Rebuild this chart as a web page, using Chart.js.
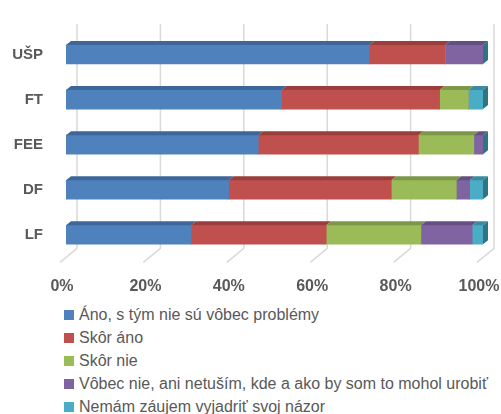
<!DOCTYPE html>
<html><head><meta charset="utf-8">
<script src="https://cdn.jsdelivr.net/npm/chart.js@4"></script>
<style>
html,body{margin:0;padding:0;background:#fff;}
#wrap{position:relative;width:501px;height:414px;overflow:hidden;background:#fff;}
#c{position:absolute;left:0;top:0;}
#legend{position:absolute;left:64px;top:303.5px;font-family:"Liberation Sans",Arial,sans-serif;font-size:16px;color:#595959;}
.item{height:23px;display:flex;align-items:center;white-space:nowrap;}
.box{width:10px;height:10px;margin-right:5px;flex:none;}
</style></head><body>
<div id="wrap"><canvas id="c" width="501" height="300"></canvas><div id="legend"></div></div>
<script>
const categories = ['UŠP', 'FT', 'FEE', 'DF', 'LF'];
const seriesNames = [
  'Áno, s tým nie sú vôbec problémy',
  'Skôr áno',
  'Skôr nie',
  'Vôbec nie, ani netuším, kde a ako by som to mohol urobiť',
  'Nemám záujem vyjadriť svoj názor'
];
const anoValues      = [72.7, 51.7, 46.1, 39.0, 30.0];
const skorAnoValues  = [18.2, 37.9, 38.4, 39.0, 32.4];
const skorNieValues  = [0.0, 6.9, 13.3, 15.6, 22.7];
const vobecNieValues = [9.1, 0.0, 2.2, 3.2, 12.3];
const nemamValues    = [0.0, 3.5, 0.0, 3.2, 2.6];
const xTickValues = [0, 20, 40, 60, 80, 100];
const xTickLabels = ['0%', '20%', '40%', '60%', '80%', '100%'];

const frontColors = ['#4f81bd', '#c0504d', '#9bbb59', '#8064a2', '#4bacc6'];
const topColors   = ['#3d6699', '#9a3e3b', '#7d9748', '#654f82', '#3a8ba1'];
const sideColor = '#2e7486';
const D = {dx: 5, dy: 4};

const fake3d = {
  id: 'fake3d',
  beforeDatasetsDraw(chart) {
    const {ctx, chartArea: a, scales: {x}} = chart;
    ctx.save();
    ctx.strokeStyle = '#d9d9d9';
    ctx.lineWidth = 1.5;
    xTickValues.forEach(v => {
      const px = x.getPixelForValue(v);
      ctx.beginPath();
      ctx.moveTo(px + 11, a.top - 8);
      ctx.lineTo(px + 11, a.bottom - 9);
      ctx.lineTo(px - 6, a.bottom + 5);
      ctx.stroke();
    });
    ctx.restore();
  },
  afterDatasetsDraw(chart) {
    const ctx = chart.ctx;
    ctx.save();
    const n = chart.data.labels.length;
    for (let i = 0; i < n; i++) {
      let end = null, t = 0, b = 0;
      chart.data.datasets.forEach((ds, di) => {
        const el = chart.getDatasetMeta(di).data[i];
        const top = el.y - el.height / 2;
        const x0 = Math.min(el.base, el.x), x1 = Math.max(el.base, el.x);
        if (x1 - x0 > 0.01) {
          ctx.fillStyle = topColors[di];
          ctx.beginPath();
          ctx.moveTo(x0, top);
          ctx.lineTo(x1, top);
          ctx.lineTo(x1 + D.dx, top - D.dy);
          ctx.lineTo(x0 + D.dx, top - D.dy);
          ctx.closePath();
          ctx.fill();
        }
        if (end === null || x1 > end) { end = x1; t = top; b = el.y + el.height / 2; }
      });
      ctx.fillStyle = sideColor;
      ctx.beginPath();
      ctx.moveTo(end, t);
      ctx.lineTo(end + D.dx, t - D.dy);
      ctx.lineTo(end + D.dx, b - D.dy);
      ctx.lineTo(end, b);
      ctx.closePath();
      ctx.fill();
    }
    ctx.restore();
  }
};

const seriesValues = [anoValues, skorAnoValues, skorNieValues, vobecNieValues, nemamValues];
const datasets = seriesNames.map((name, i) => ({
  label: name,
  data: seriesValues[i],
  backgroundColor: frontColors[i],
  borderWidth: 0,
  barThickness: 19
}));

const chart = new Chart(document.getElementById('c'), {
  type: 'bar',
  data: {labels: categories, datasets},
  plugins: [fake3d],
  options: {
    indexAxis: 'y',
    responsive: false,
    animation: false,
    devicePixelRatio: 1,
    layout: {padding: {top: 21, right: 18, left: 0, bottom: 0}},
    plugins: {legend: {display: false}, tooltip: {enabled: false}},
    scales: {
      x: {
        stacked: true, min: 0, max: 100,
        grid: {display: false, drawTicks: false},
        border: {display: false},
        afterBuildTicks(s) { s.ticks = xTickValues.map(v => ({value: v})); },
        afterFit(s) { s.height = 42.7; s.paddingLeft = 0; s.paddingRight = 0; },
        ticks: {
          padding: 20,
          labelOffset: -4,
          maxRotation: 0,
          autoSkip: false,
          color: '#595959',
          font: {family: '"Liberation Sans", Arial, sans-serif', size: 16, weight: 'bold'},
          callback: (v, idx) => xTickLabels[idx]
        }
      },
      y: {
        stacked: true,
        grid: {display: false, drawTicks: false},
        border: {display: false},
        afterFit(s) { s.width = 66; },
        ticks: {
          padding: 23,
          color: '#595959',
          font: {family: '"Liberation Sans", Arial, sans-serif', size: 15, weight: 'bold'}
        }
      }
    }
  }
});

const leg = document.getElementById('legend');
chart.data.datasets.forEach(ds => {
  const row = document.createElement('div');
  row.className = 'item';
  const box = document.createElement('span');
  box.className = 'box';
  box.style.background = ds.backgroundColor;
  const txt = document.createElement('span');
  txt.textContent = ds.label;
  row.appendChild(box); row.appendChild(txt);
  leg.appendChild(row);
});
</script>
</body></html>
